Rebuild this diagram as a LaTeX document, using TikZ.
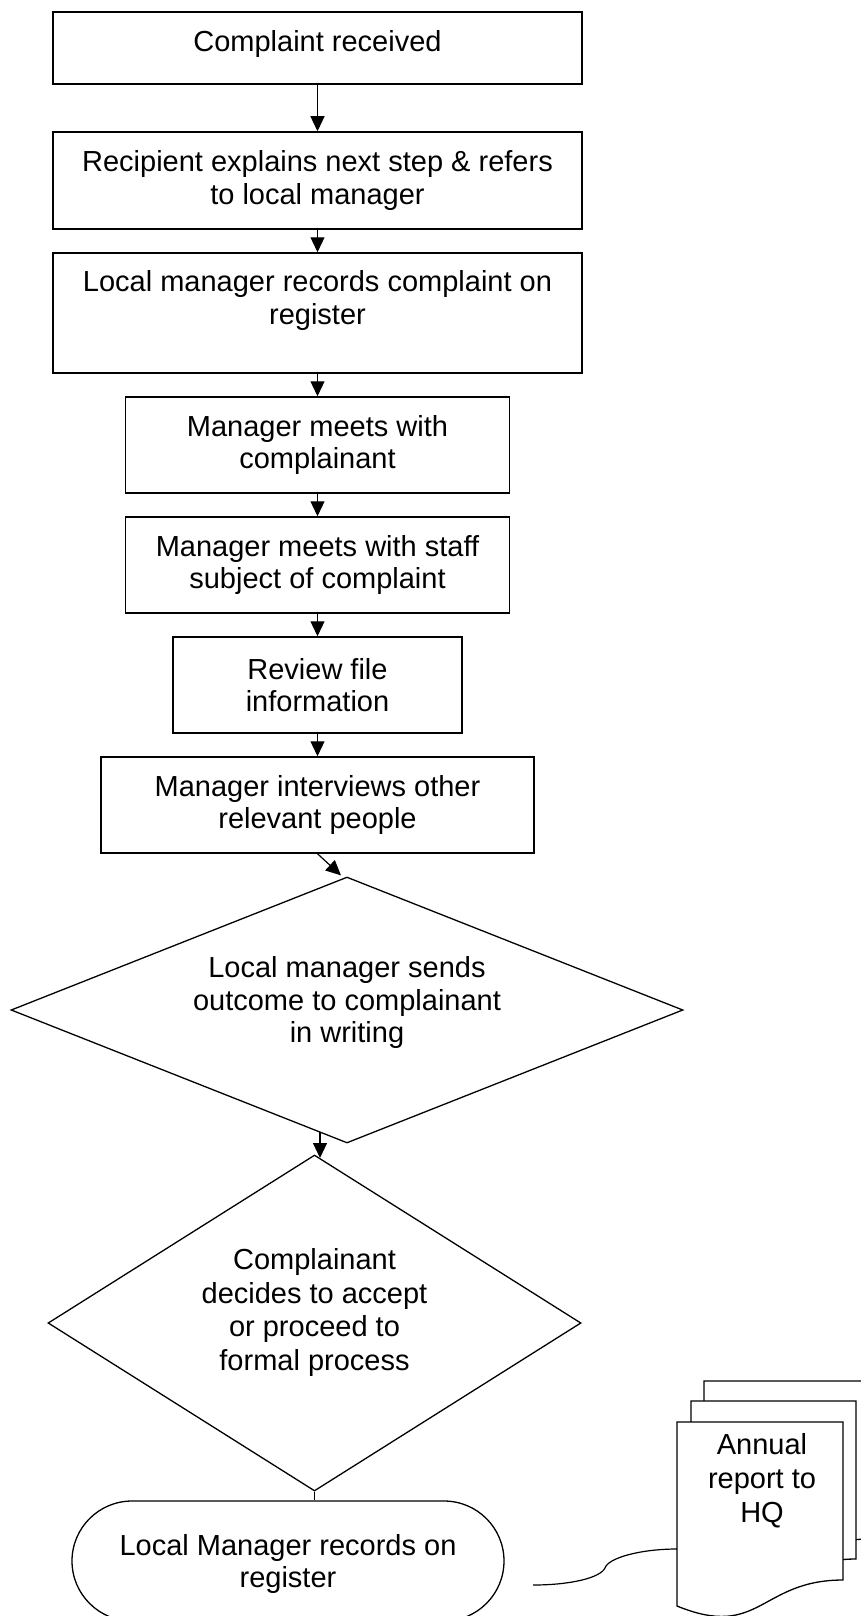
\documentclass[tikz,border=0pt]{standalone}
\usepackage{fontspec}
\setmainfont{Liberation Sans}
\usetikzlibrary{shapes.geometric,shapes.misc,arrows.meta,calc}
\newcommand\flowfont{\fontsize{29}{32.5}\selectfont}
\newcommand\flowfontb{\fontsize{29}{33.5}\selectfont}
\newcommand\flowfontc{\fontsize{29}{34}\selectfont}
\begin{document}
\begin{tikzpicture}[x=1pt,y=-1pt,
  box/.style={draw, line width=1.5pt, rectangle, fill=white, inner sep=0pt, align=center, font=\flowfont},
  dia/.style={draw, line width=1.3pt, diamond, fill=white, inner sep=0pt},
  termbox/.style={draw, line width=1.3pt, rounded rectangle, fill=white, inner sep=0pt},
  arr/.style={line width=1.2pt, -{Triangle[width=14pt,length=15pt]}},
  conn/.style={line width=1.2pt},
  page/.style={line width=1.3pt, fill=white},
  lbl/.style={align=center, font=\flowfont, inner sep=0pt}]
\useasboundingbox (0,0) rectangle (861,1616);
\clip (0,0) rectangle (861,1616);
\fill[white] (0,0) rectangle (861,1616);

% process boxes
\node[box, minimum width=529pt, minimum height=72pt,
  label={[lbl,yshift=4pt]center:Complaint received}] (b1) at (317.5,48) {};
\node[box, minimum width=529pt, minimum height=97pt] (b2) at (317.5,180.5)
  {Recipient explains next step \& refers\\to local manager};
\node[box, minimum width=529pt, minimum height=120pt,
  label={[lbl,yshift=12.5pt]center:{Local manager records complaint on\\register}}] (b3) at (317.5,313) {};
\node[box, minimum width=384pt, minimum height=96pt] (b4) at (317.5,445)
  {Manager meets with\\complainant};
\node[box, minimum width=384pt, minimum height=96pt] (b5) at (317.5,565)
  {Manager meets with staff\\subject of complaint};
\node[box, minimum width=289pt, minimum height=96pt] (b6) at (317.5,685)
  {Review file\\information};
\node[box, minimum width=433pt, minimum height=96pt] (b7) at (317.5,805)
  {Manager interviews other\\relevant people};

% decisions
\node[dia, minimum width=672pt, minimum height=266pt,
  label={[lbl,yshift=7.5pt]center:{Local manager sends\\outcome to complainant\\in writing}}] (d1) at (347,1010) {};
\node[dia, minimum width=533pt, minimum height=336pt,
  label={[lbl,font=\flowfontb,yshift=10.5pt]center:{Complainant\\decides to accept\\or proceed to\\formal process}}] (d2) at (314.5,1323) {};

% terminal
\node[termbox, minimum width=432pt, minimum height=120pt,
  label={[lbl,yshift=-3pt]center:{Local Manager records on\\register}}] (term) at (288,1561) {};

% multi-document
\begin{scope}[shift={(704,1381)}]
  \draw[page] (0,0) -- (166,0) -- (166,158) .. controls (83,158) and (83,218) .. (0,184) -- cycle;
\end{scope}
\begin{scope}[shift={(691,1401)}]
  \draw[page] (0,0) -- (165,0) -- (165,158) .. controls (83,158) and (83,218) .. (0,184) -- cycle;
\end{scope}
\begin{scope}[shift={(677,1422)}]
  \draw[page] (0,0) -- (166,0) -- (166,158) .. controls (83,158) and (83,218) .. (0,184) -- cycle;
\end{scope}
\node[lbl, font=\flowfontc] (doc) at (762,1481) {Annual\\report to\\HQ};

% connectors
\draw[arr] (b1.south) -- (b2.north);
\draw[arr] (b2.south) -- (b3.north);
\draw[arr] (b3.south) -- (b4.north);
\draw[arr] (b4.south) -- (b5.north);
\draw[arr] (b5.south) -- (b6.north);
\draw[arr] (b6.south) -- (b7.north);
\coordinate (d1tip) at ($(d1.north)+(-6,-1)$);
\draw[arr] (b7.south) -- (d1tip);
\coordinate (d12s) at (320,1132);
\coordinate (d12e) at (320,1158);
\draw[arr] (d12s) -- (d12e);
\draw[conn] (d2.south) -- (d2.south |- term.north);
\coordinate (cstart) at (533,1585);
\coordinate (docin) at (677,1549);
\draw[conn] (cstart) .. controls (570,1585) and (600,1578) .. (605,1568)
  .. controls (608,1558) and (640,1549) .. (docin);
\end{tikzpicture}
\end{document}
